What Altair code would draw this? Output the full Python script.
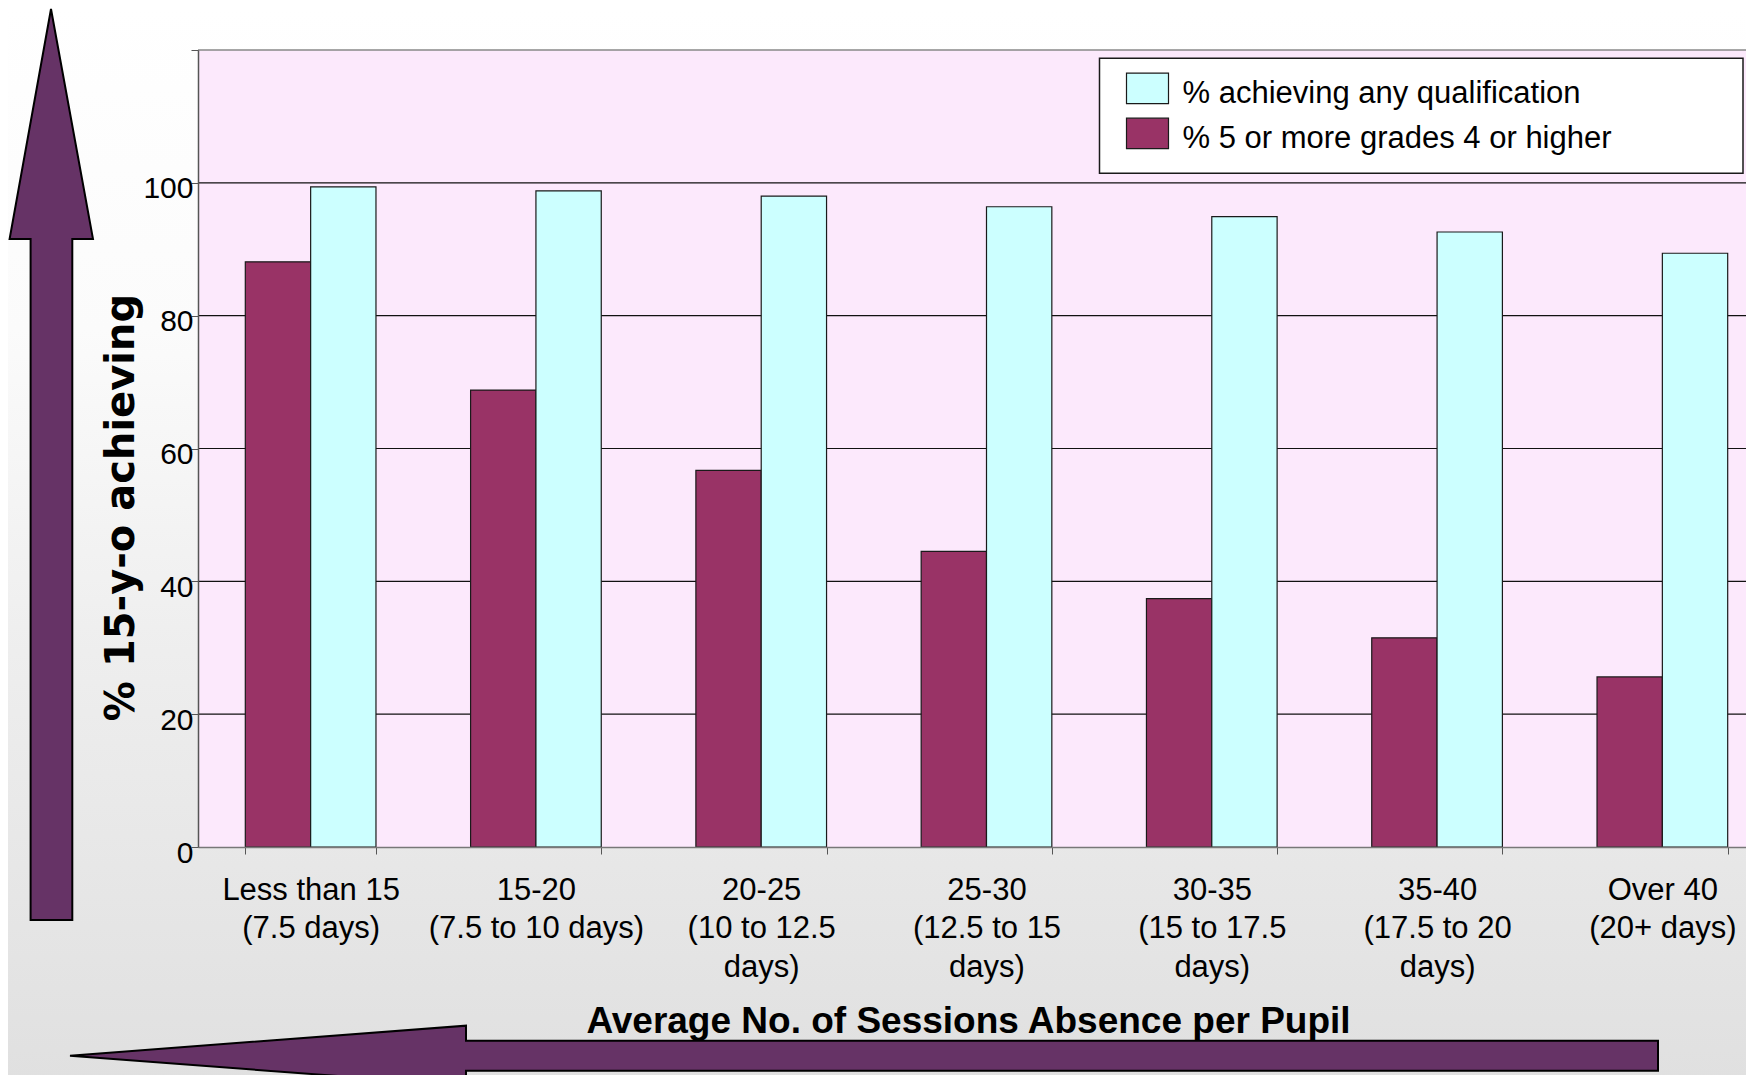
import altair as alt
import pandas as pd

# ---- data ----
categories = [
    "Less than 15|(7.5 days)",
    "15-20|(7.5 to 10 days)",
    "20-25|(10 to 12.5|days)",
    "25-30|(12.5 to 15|days)",
    "30-35|(15 to 17.5|days)",
    "35-40|(17.5 to 20|days)",
    "Over 40|(20+ days)",
]
series_any = "% achieving any qualification"
series_five = "% 5 or more grades 4 or higher"
values_any = [99.4, 98.8, 98.0, 96.4, 94.9, 92.6, 89.4]
values_five = [88.1, 68.8, 56.7, 44.5, 37.4, 31.5, 25.6]
y_tick_values = [0, 20, 40, 60, 80, 100, 120]
grid_values = [20, 40, 60, 80, 100]
top_value = [120]

rows = []
for c, a, f in zip(categories, values_any, values_five):
    rows.append({"category": c, "series": series_five, "value": f})
    rows.append({"category": c, "series": series_any, "value": a})
df = pd.DataFrame(rows)

W, H = 1577, 797
FONT = "Liberation Sans"

V_ARROW = "M-147 -41 L-105 189 L-125.7 189 L-125.7 870 L-167.4 870 L-167.4 189 L-188.4 189 Z"
H_ARROW = "M-128 1005.7 L268 975.7 L268 990.7 L1460 990.7 L1460 1020.7 L268 1020.7 L268 1035.7 Z"

one = pd.DataFrame({"k": [0]})

bg = alt.Chart(one).mark_rect(
    fill=alt.LinearGradient(
        gradient="linear", x1=0, y1=0, x2=0, y2=1,
        stops=[
            alt.GradientStop(offset=0, color="#ffffff"),
            alt.GradientStop(offset=0.3, color="#fbfbfb"),
            alt.GradientStop(offset=0.6, color="#eeeeee"),
            alt.GradientStop(offset=1, color="#e0e0e0"),
        ],
    )
).encode(x=alt.value(-190), x2=alt.value(1548), y=alt.value(-42), y2=alt.value(1030))

plot_bg = alt.Chart(one).mark_rect(fill="#FCE9FC").encode(
    x=alt.value(0), x2=alt.value(W), y=alt.value(0), y2=alt.value(H)
)

y_scale = alt.Scale(domain=[0, 120], nice=False, zero=True)

grid = alt.Chart(pd.DataFrame({"value": grid_values})).mark_rule(
    color="#111111", strokeWidth=1.2
).encode(y=alt.Y("value:Q", scale=y_scale))

top_rule = alt.Chart(pd.DataFrame({"value": top_value})).mark_rule(
    color="#888888", strokeWidth=1.5
).encode(y=alt.Y("value:Q", scale=y_scale))

bars = alt.Chart(df).mark_bar(stroke="#1a1a1a", strokeWidth=1.2).encode(
    x=alt.X(
        "category:N",
        sort=categories,
        scale=alt.Scale(paddingInner=0.42, paddingOuter=0.21),
        axis=alt.Axis(
            title="Average No. of Sessions Absence per Pupil",
            labelExpr="split(datum.label, '|')",
            labelAngle=0,
            tickBand="extent",
            tickSize=7,
            tickColor="#555555",
            domainColor="#777777",
            domainWidth=1.5,
            labelFont=FONT,
            labelFontSize=31,
            labelLineHeight=38.5,
            labelBaseline="top",
            labelPadding=21,
            labelColor="black",
            labelLimit=500,
            labelOverlap=False,
            titleFont=FONT,
            titleFontSize=37,
            titleFontWeight="bold",
            titleColor="black",
            titleX=770,
            titleY=185,
            titleAlign="center",
            titleBaseline="alphabetic",
            zindex=1,
        ),
    ),
    xOffset=alt.XOffset("series:N", scale=alt.Scale(domain=[series_five, series_any], paddingInner=0)),
    y=alt.Y(
        "value:Q",
        scale=y_scale,
        axis=alt.Axis(
            values=y_tick_values,
            labelExpr="datum.value == 120 ? '' : datum.label",
            grid=False,
            tickSize=7,
            tickColor="#555555",
            domainColor="#555555",
            domainWidth=1.5,
            labelFont=FONT,
            labelFontSize=30,
            labelColor="black",
            labelPadding=-2,
            labelOffset=6,
            title="% 15-y-o achieving",
            titleFont="DejaVu Sans",
            titleFontWeight="bold",
            titleFontSize=40,
            titleColor="black",
            titleAngle=270,
            titleX=-64.7,
            titleY=457,
            titleAlign="center",
            titleBaseline="alphabetic",
            zindex=1,
        ),
    ),
    color=alt.Color(
        "series:N",
        scale=alt.Scale(domain=[series_any, series_five], range=["#CCFFFF", "#993366"]),
        legend=alt.Legend(
            title=None,
            orient="none",
            legendX=927.5,
            legendY=22,
            padding=0,
            symbolType="M-1,-0.99H1V0.46H-1Z",
            symbolSize=1764,
            symbolStrokeColor="#1a1a1a",
            symbolStrokeWidth=1.2,
            symbolOpacity=1,
            labelFont=FONT,
            labelFontSize=31,
            labelColor="black",
            labelOffset=13,
            labelBaseline="middle",
            labelLimit=0,
            rowPadding=6,
            zindex=1,
        ),
    ),
)

legend_box = alt.Chart(one).mark_rect(fill="white", stroke="#1a1a1a", strokeWidth=1.5).encode(
    x=alt.value(901.5), x2=alt.value(1545), y=alt.value(8.3), y2=alt.value(123.3)
)

v_arrow = alt.Chart(one).mark_point(
    shape=V_ARROW, size=4, filled=True, fill="#663366", stroke="black",
    strokeWidth=2, opacity=1, fillOpacity=1, strokeOpacity=1,
).encode(x=alt.value(0), y=alt.value(0))

h_arrow = alt.Chart(one).mark_point(
    shape=H_ARROW, size=4, filled=True, fill="#663366", stroke="black",
    strokeWidth=2, opacity=1, fillOpacity=1, strokeOpacity=1,
).encode(x=alt.value(0), y=alt.value(0))

chart = alt.layer(
    bg, plot_bg, grid, top_rule, bars, legend_box, v_arrow, h_arrow
).properties(
    width=W,
    height=H,
    autosize=alt.AutoSizeParams(type="none"),
    padding={"left": 190, "top": 42, "right": -29, "bottom": 228},
).configure_view(stroke=None).configure(background="white")

chart.save("out.html", embed_options={"renderer": "svg", "actions": False})
